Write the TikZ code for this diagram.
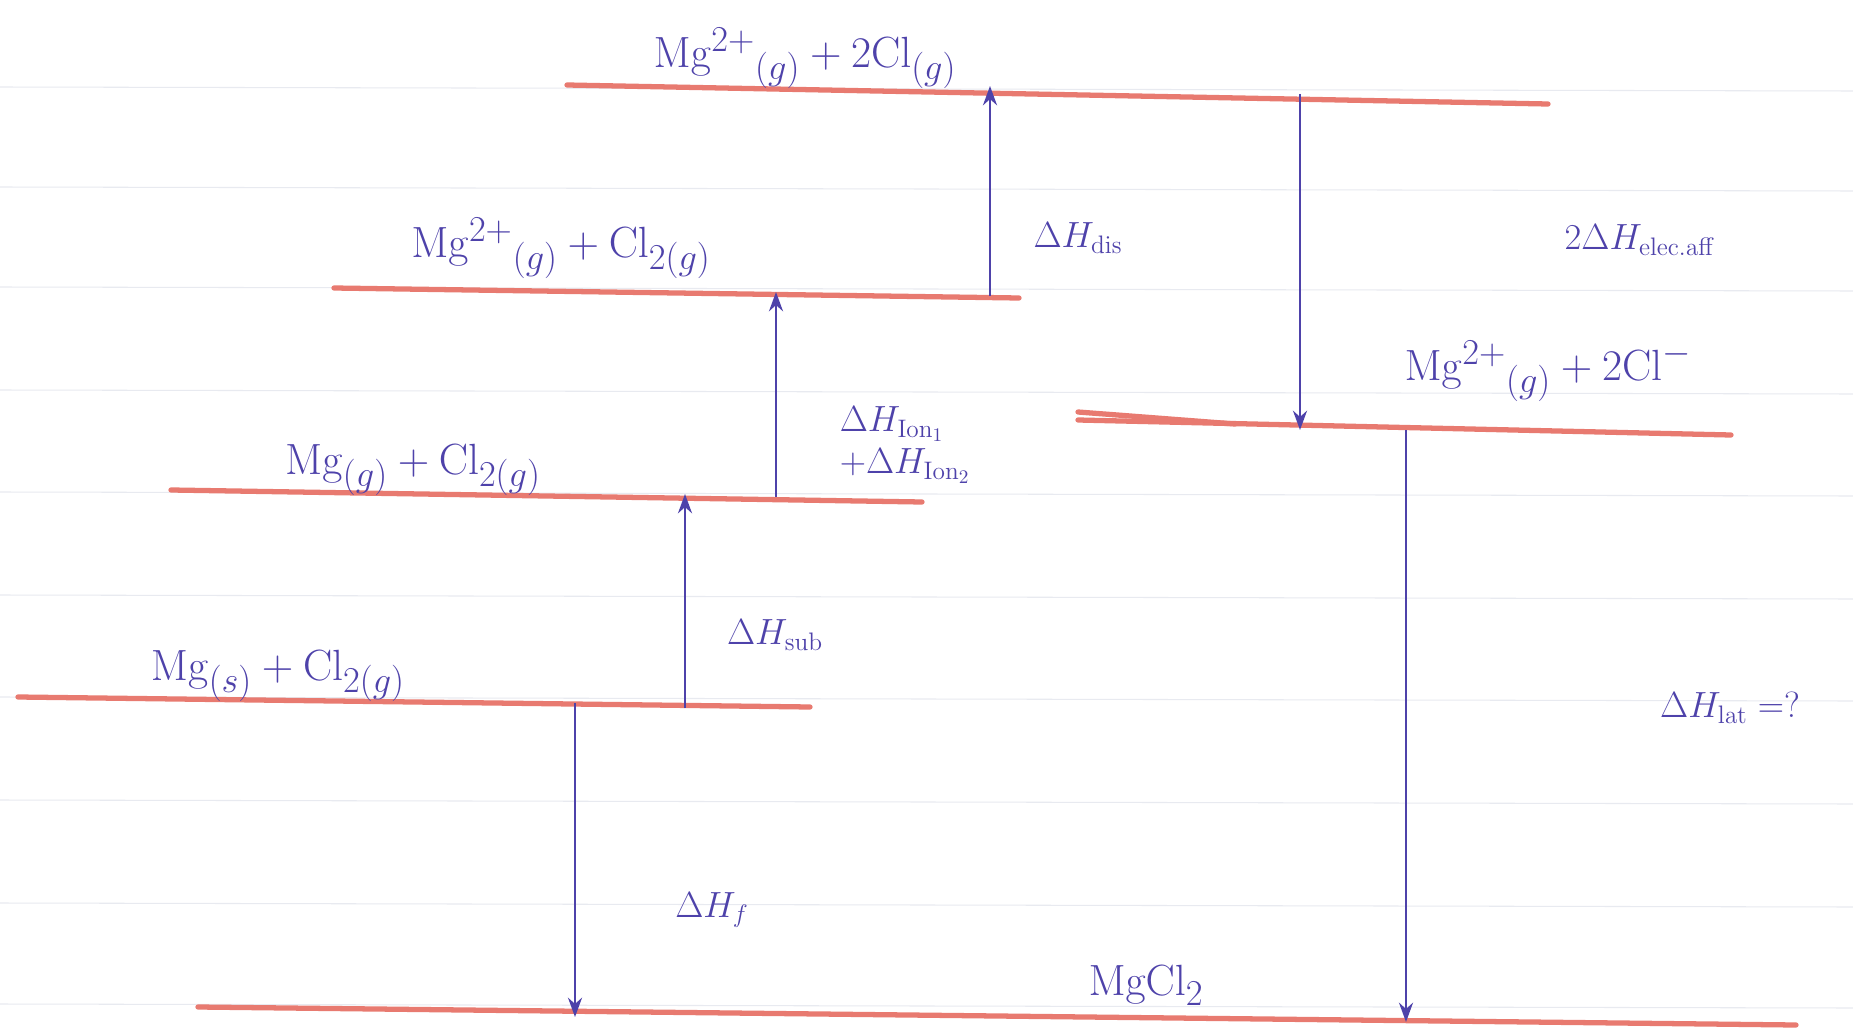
\documentclass[tikz,border=0pt]{standalone}
\usepackage{tikz}
\usetikzlibrary{arrows.meta}

\definecolor{ink}{RGB}{78,66,170}
\definecolor{levelred}{RGB}{232,122,112}
\definecolor{ruled}{RGB}{232,234,240}

\begin{document}
\begin{tikzpicture}[x=0.02cm, y=-0.02cm, >={Stealth[length=11pt,width=8pt]},
  level/.style={levelred, line width=3pt, line cap=round},
  step arrow/.style={->, ink, line width=1.3pt},
  species/.style={ink, font=\fontsize{29}{32}\selectfont},
  enthalpy/.style={ink, font=\fontsize{22}{26}\selectfont}]
\useasboundingbox (0,0) rectangle (1853,1034);
\fill[white] (0,0) rectangle (1853,1034);
% ruled paper
\foreach \y in {87,187,287,390,492,595,697,800,903,1004}
  \draw[ruled, line width=0.6pt] (0,\y) -- (1853,\y+4);

% energy levels
\draw[level] (567,85) -- (1548,104);
\draw[level] (334,288) -- (1019,298);
\draw[level] (171,490) -- (922,502);
\draw[level] (18,697) -- (810,707);
\draw[level] (198,1007) -- (1796,1025);
\draw[level] (1078,420) -- (1731,435);
\draw[level] (1078,412) -- (1235,424);

% species
\node[species] (top) at (805,58) {$\mathrm{Mg}^{2+}{}_{(g)}+2\mathrm{Cl}_{(g)}$};
\node[species] (dis) at (561,248) {$\mathrm{Mg}^{2+}{}_{(g)}+\mathrm{Cl}_{2(g)}$};
\node[species] (gas) at (413,470) {$\mathrm{Mg}_{(g)}+\mathrm{Cl}_{2(g)}$};
\node[species] (solid) at (278,676) {$\mathrm{Mg}_{(s)}+\mathrm{Cl}_{2(g)}$};
\node[species] (ions) at (1548,371) {$\mathrm{Mg}^{2+}{}_{(g)}+2\mathrm{Cl}^{-}$};
\node[species] (salt) at (1146,985) {$\mathrm{MgCl}_2$};

% steps of the cycle
\coordinate (sub0) at (685,708);
\coordinate (sub1) at (685,494);
\coordinate (ion0) at (776,497);
\coordinate (ion1) at (776,292);
\coordinate (dis0) at (990,296);
\coordinate (dis1) at (990,86);
\coordinate (ea0) at (1300,94);
\coordinate (ea1) at (1300,430);
\coordinate (lat0) at (1406,430);
\coordinate (lat1) at (1406,1022);
\coordinate (f0) at (575,703);
\coordinate (f1) at (575,1017);

\draw[step arrow] (sub0) -- (sub1);
\draw[step arrow] (ion0) -- (ion1);
\draw[step arrow] (dis0) -- (dis1);
\draw[step arrow] (ea0) -- (ea1);
\draw[step arrow] (lat0) -- (lat1);
\draw[step arrow] (f0) -- (f1);

\node[enthalpy] (hsub) at (775,635) {$\Delta H_{\mathrm{sub}}$};
\node[enthalpy, align=left] (hion) at (905,445) {$\Delta H_{\mathrm{Ion}_1}$\\[-2pt]$+\Delta H_{\mathrm{Ion}_2}$};
\node[enthalpy] (hdis) at (1078,238) {$\Delta H_{\mathrm{dis}}$};
\node[enthalpy] (hea) at (1640,240) {$2\Delta H_{\mathrm{elec.aff}}$};
\node[enthalpy] (hlat) at (1730,708) {$\Delta H_{\mathrm{lat}}=?$};
\node[enthalpy] (hf) at (712,910) {$\Delta H_{f}$};
\end{tikzpicture}
\end{document}
